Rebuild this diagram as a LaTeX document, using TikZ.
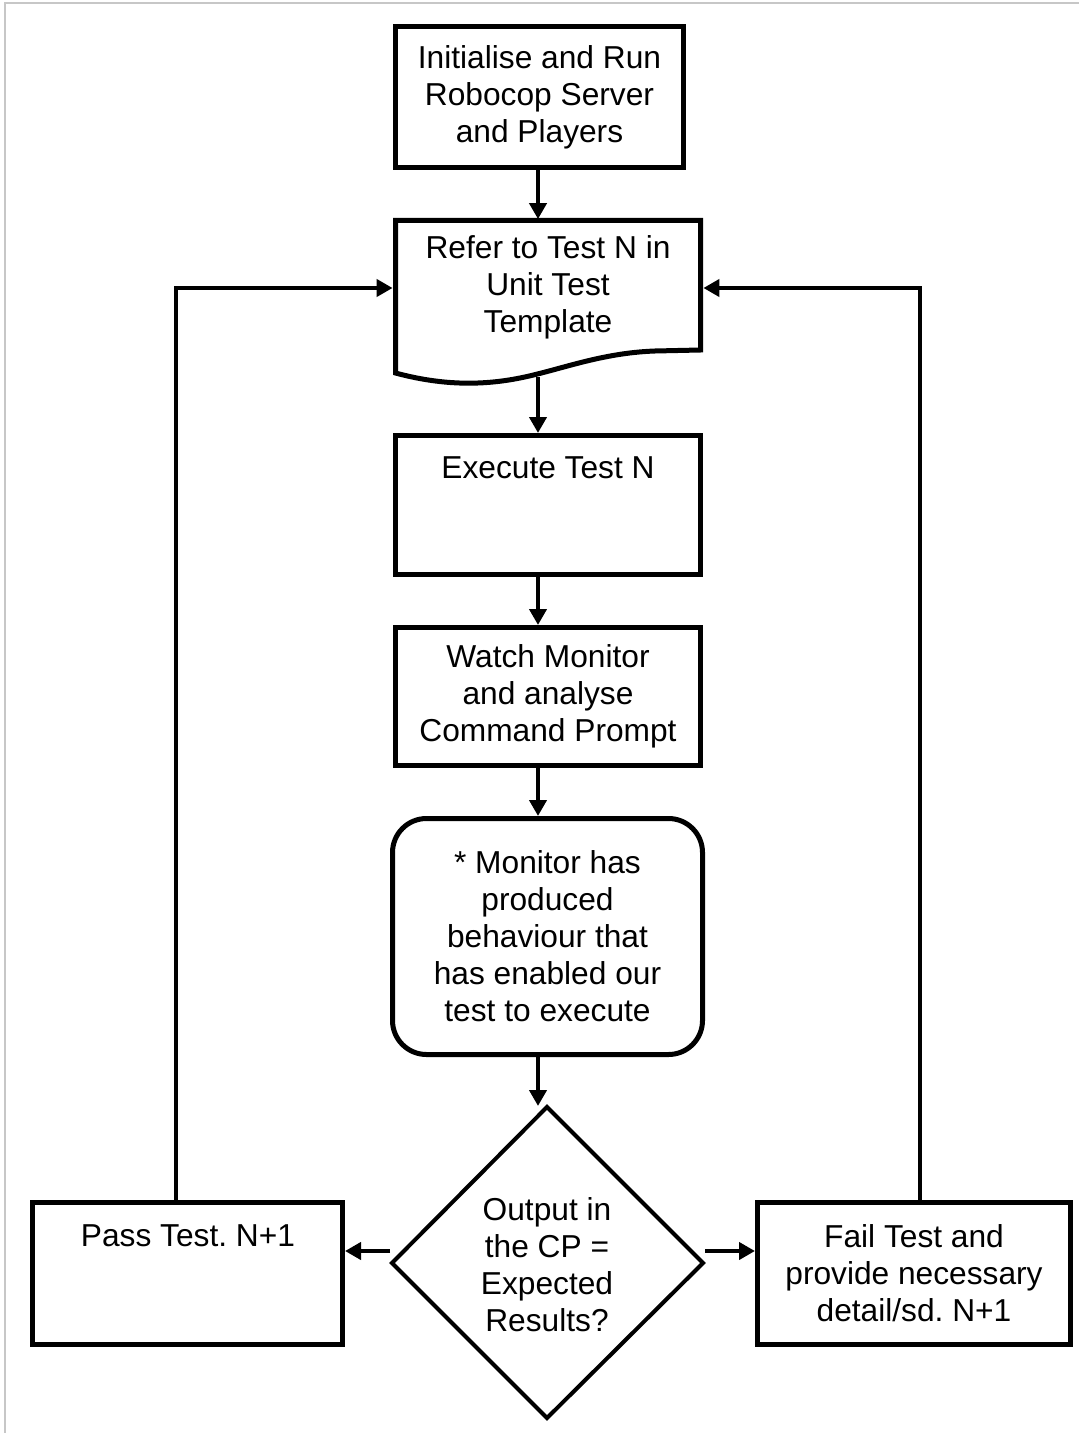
\documentclass[tikz,border=0pt]{standalone}
\usepackage{fontspec}
\setmainfont{Liberation Sans}
\usetikzlibrary{arrows.meta,calc}
\frenchspacing
\begin{document}
\begin{tikzpicture}[x=0.5pt,y=-0.5pt,
  every node/.style={font=\fontsize{15.85}{18.5}\selectfont, align=center, inner sep=0pt},
  box/.style={draw, line width=2.5pt, rectangle},
  arr/.style={line width=2pt, -{Triangle[length=8pt,width=8.5pt]}},
  dline/.style={line width=2.5pt},
]
\useasboundingbox (0,0) rectangle (1079,1433);
% frame
\draw[black!22, line width=1pt] (5,1433) -- (5,3) -- (1079,3);

% boxes
\node[box, minimum width=144pt, minimum height=70.5pt] (b1) at (539.5,97) {Initialise and Run\\Robocop Server\\and Players};

\node[minimum width=155pt, minimum height=83.5pt] (b2) at (548,303) {};
\draw[dline] (395.5,373) -- (395.5,220.5) -- (700.5,220.5) -- (700.5,350) -- (655,351)
  .. controls (600,353) and (560,370) .. (520,378)
  .. controls (480,386) and (440,385) .. (395.5,373) -- cycle;
\coordinate (w2) at (538,377);
\node (t2) at (548,287) {Refer to Test N in\\Unit Test\\Template};

\node[box, minimum width=152.5pt, minimum height=69.5pt] (b3) at (548,505) {};
\node[anchor=base] (t3) at (548,478) {Execute Test N};

\node[box, minimum width=152.5pt, minimum height=69pt] (b4) at (548,696.5) {Watch Monitor\\and analyse\\Command Prompt};

\node[box, rounded corners=17pt, minimum width=155pt, minimum height=118pt] (b5) at (547.5,936.5) {* Monitor has\\produced\\behaviour that\\has enabled our\\test to execute};

% decision
\coordinate (dt) at (547,1107);
\coordinate (dr) at (703,1263);
\coordinate (db) at (547,1418);
\coordinate (dl) at (392,1263);
\draw[line width=2pt] (dt) -- (dr) -- (db) -- (dl) -- cycle;
\node (dtxt) at (547,1265) {Output in\\the CP =\\Expected\\Results?};

\node[box, minimum width=155pt, minimum height=71pt] (pass) at (187.5,1273.5) {};
\node[anchor=base] (tp) at (188,1246) {Pass Test. N+1};

\node[box, minimum width=156.5pt, minimum height=71pt] (fail) at (914,1273.5) {Fail Test and\\provide necessary\\detail/sd. N+1};

% connectors
\draw[arr] (b1.south -| w2) -- (b2.north -| w2);
\draw[arr] (w2) -- (w2 |- b3.north);
\draw[arr] (b3.south -| w2) -- (b4.north -| w2);
\draw[arr] (b4.south -| w2) -- (b5.north -| w2);
\coordinate (dtin) at (538,1106);
\draw[arr] (b5.south -| w2) -- (dtin);

\coordinate (pl) at (390,1251);
\draw[arr] (pl) -- (pl -| pass.east);
\coordinate (pr) at (705,1251);
\draw[arr] (pr) -- (pr -| fail.west);

\coordinate (lx) at (176,288);
\coordinate (rx) at (920,288);
\draw[arr] (lx |- pass.north) -- (lx) -- (lx -| b2.west);
\draw[arr] (rx |- fail.north) -- (rx) -- (rx -| b2.east);
\end{tikzpicture}
\end{document}
